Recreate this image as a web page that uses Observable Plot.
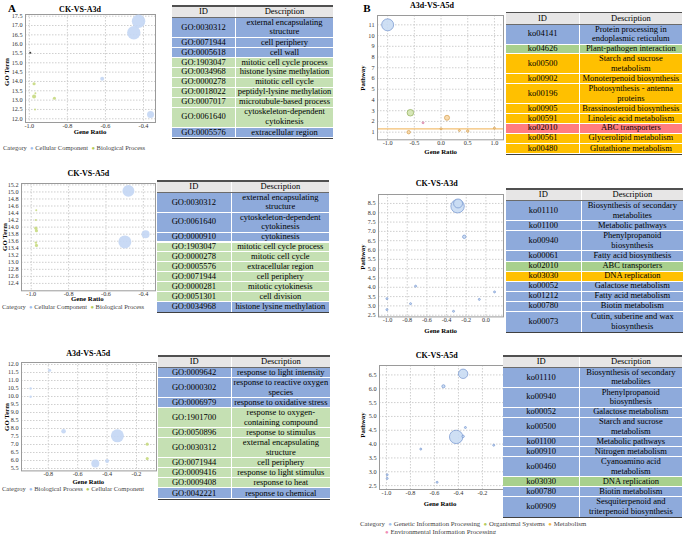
<!DOCTYPE html>
<html><head><meta charset="utf-8">
<script src="https://cdn.jsdelivr.net/npm/d3@7"></script>
<script src="https://cdn.jsdelivr.net/npm/@observablehq/plot@0.6"></script>
<style>
html,body{margin:0;padding:0;background:#fff;}
#fig{position:relative;width:685px;height:534px;overflow:hidden;font-family:'Liberation Serif','Times New Roman',serif;color:#000;}
.t{position:absolute;white-space:nowrap;line-height:1;}
.cell{position:absolute;display:flex;align-items:center;justify-content:center;text-align:center;white-space:pre-line;font-size:8.5px;line-height:9.6px;box-sizing:border-box;}
</style></head>
<body><div id="fig"></div>
<script>
// ---------------- DATA ----------------
// Panel A, chart 1 (CK-VS-A3d)
const a1Ratio = [-0.426, -0.451, -0.617, -0.363, -0.995, -0.975, -0.968, -0.975, -0.868, -0.970];
const a1Term  = [17.23, 16.61, 14.14, 12.23, 15.54, 13.88, 13.37, 13.19, 13.10, 12.50];
const a1Count = [92, 92, 8, 25, 2, 5, 2, 8, 5, 2];
const a1Cat   = ["Cellular Component","Cellular Component","Cellular Component","Cellular Component","Other",
                 "Biological Process","Biological Process","Biological Process","Biological Process","Biological Process"];
// Panel A, chart 2 (CK-VS-A5d)
const a2Ratio = [-0.480, -0.388, -0.499, -0.973, -0.975, -0.975, -0.972, -0.975, -0.972];
const a2Term  = [15.03, 13.80, 13.58, 14.48, 14.20, 13.97, 13.90, 13.56, 13.48];
const a2Count = [73, 33, 86, 2, 2, 5, 5, 3, 5];
const a2Cat   = ["Cellular Component","Cellular Component","Cellular Component",
                 "Biological Process","Biological Process","Biological Process","Biological Process","Biological Process","Biological Process"];
// Panel A, chart 3 (A3d-VS-A5d)
const a3Ratio = [-0.791, -0.920, -0.920, -0.696, -0.330, -0.480, -0.400, -0.127, -0.127];
const a3Term  = [11.64, 10.50, 9.98, 7.83, 7.54, 5.81, 5.97, 7.02, 6.12];
const a3Count = [5, 3, 3, 11, 86, 33, 8, 5, 5];
const a3Cat   = ["Biological Process","Biological Process","Biological Process","Biological Process","Biological Process",
                 "Biological Process","Biological Process","Cellular Component","Cellular Component"];
// Panel B, chart 1 (A3d-VS-A5d)
const b1Ratio = [-1.000, -0.574, 0.112, -0.337, -0.606, 0.000, 0.344, 0.500, 1.000];
const b1Path  = [11.00, 2.81, 2.34, 1.88, 1.00, 1.32, 1.16, 1.10, 1.38];
const b1Count = [73, 22, 13, 2, 6, 2, 2, 3, 2];
const b1Cat   = ["Genetic Information Processing","Organismal Systems","Metabolism","Environmental Information Processing",
                 "Metabolism","Metabolism","Metabolism","Metabolism","Metabolism"];
const b1Threshold = [1.3];
// Panel B, chart 2 (CK-VS-A3d)
const b2Ratio = [-0.288, -0.283, -0.220, -0.715, -1.006, -1.006, -0.766, -0.329, -0.067, 0.088];
const b2Path  = [8.35, 8.50, 6.71, 4.06, 3.39, 2.80, 3.12, 2.71, 3.35, 3.75];
const b2Count = [92, 41, 6, 2, 2, 2, 2, 2, 2, 2];
const b2Cat   = Array(10).fill("Genetic Information Processing");
// Panel B, chart 3 (CK-VS-A5d)
const b3Ratio = [-0.361, -0.525, -0.419, -0.361, -0.342, -0.714, -0.106, -0.994, -0.994, -0.578];
const b3Path  = [6.54, 6.09, 4.26, 4.28, 4.60, 3.82, 3.96, 2.89, 2.76, 2.62];
const b3Count = [45, 5, 92, 3, 2, 2, 2, 2, 2, 2];
const b3Cat   = Array(10).fill("Genetic Information Processing");

// tick labels
const a1XTicks = [-1.0, -0.8, -0.6, -0.4];
const a1YTicks = [12.0, 12.5, 13.0, 13.5, 14.0, 14.5, 15.0, 15.5, 16.0, 16.5, 17.0, 17.5];
const a2XTicks = [-1.0, -0.8, -0.6, -0.4];
const a2YTicks = [12.4, 12.6, 12.8, 13.0, 13.2, 13.4, 13.6, 13.8, 14.0, 14.2, 14.4, 14.6, 14.8, 15.0, 15.2];
const a3XTicks = [-0.8, -0.6, -0.4, -0.2];
const a3YTicks = [5.5, 6.0, 6.5, 7.0, 7.5, 8.0, 8.5, 9.0, 9.5, 10.0, 10.5, 11.0, 11.5, 12.0];
const b1XTicks = [-1.0, -0.5, 0.0, 0.5, 1.0];
const b1YTicks = [1, 2, 3, 4, 5, 6, 7, 8, 9, 10, 11];
const b2XTicks = [-1.0, -0.8, -0.6, -0.4, -0.2, 0.0];
const b2YTicks = [2.5, 3.0, 3.5, 4.0, 4.5, 5.0, 5.5, 6.0, 6.5, 7.0, 7.5, 8.0, 8.5];
const b3XTicks = [-1.0, -0.8, -0.6, -0.4, -0.2];
const b3YTicks = [2.5, 3.0, 3.5, 4.0, 4.5, 5.0, 5.5, 6.0, 6.5];

// tables
const t1Ids = ["GO:0030312","GO:0071944","GO:0005618","GO:1903047","GO:0034968","GO:0000278","GO:0018022","GO:0007017","GO:0061640","GO:0005576"];
const t1Desc = ["external encapsulating\nstructure","cell periphery","cell wall","mitotic cell cycle process","histone lysine methylation","mitotic cell cycle","peptidyl-lysine methylation","microtubule-based process","cytoskeleton-dependent\ncytokinesis","extracellular region"];
const t1Grp = ["b","b","b","g","g","g","g","g","g","b"];
const t2Ids = ["GO:0030312","GO:0061640","GO:0000910","GO:1903047","GO:0000278","GO:0005576","GO:0071944","GO:0000281","GO:0051301","GO:0034968"];
const t2Desc = ["external encapsulating\nstructure","cytoskeleton-dependent\ncytokinesis","cytokinesis","mitotic cell cycle process","mitotic cell cycle","extracellular region","cell periphery","mitotic cytokinesis","cell division","histone lysine methylation"];
const t2Grp = ["b","b","b","g","g","g","g","g","g","b"];
const t3Ids = ["GO:0009642","GO:0000302","GO:0006979","GO:1901700","GO:0050896","GO:0030312","GO:0071944","GO:0009416","GO:0009408","GO:0042221"];
const t3Desc = ["response to light intensity","response to reactive oxygen\nspecies","response to oxidative stress","response to oxygen-\ncontaining compound","response to stimulus","external encapsulating\nstructure","cell periphery","response to light stimulus","response to heat","response to chemical"];
const t3Grp = ["b","b","b","g","g","g","g","g","g","b"];
const t4Ids = ["ko04141","ko04626","ko00500","ko00902","ko00196","ko00905","ko00591","ko02010","ko00561","ko00480"];
const t4Desc = ["Protein processing in\nendoplasmic reticulum","Plant-pathogen interaction","Starch and sucrose\nmetabolism","Monoterpenoid biosynthesis","Photosynthesis - antenna\nproteins","Brassinosteroid biosynthesis","Linoleic acid metabolism","ABC transporters","Glycerolipid metabolism","Glutathione metabolism"];
const t4Grp = ["b","G","o","o","o","o","o","p","o","o"];
const t5Ids = ["ko01110","ko01100","ko00940","ko00061","ko02010","ko03030","ko00052","ko01212","ko00780","ko00073"];
const t5Desc = ["Biosynthesis of secondary\nmetabolites","Metabolic pathways","Phenylpropanoid\nbiosynthesis","Fatty acid biosynthesis","ABC transporters","DNA replication","Galactose metabolism","Fatty acid metabolism","Biotin metabolism","Cutin, suberine and wax\nbiosynthesis"];
const t5Grp = ["b","b","b","b","G","o","b","b","b","b"];
const t6Ids = ["ko01110","ko00940","ko00052","ko00500","ko01100","ko00910","ko00460","ko03030","ko00780","ko00909"];
const t6Desc = ["Biosynthesis of secondary\nmetabolites","Phenylpropanoid\nbiosynthesis","Galactose metabolism","Starch and sucrose\nmetabolism","Metabolic pathways","Nitrogen metabolism","Cyanoamino acid\nmetabolism","DNA replication","Biotin metabolism","Sesquiterpenoid and\ntriterpenoid biosynthesis"];
const t6Grp = ["b","b","b","b","b","b","b","G","b","b"];

// ---------------- STYLES ----------------
const FONT = "'Liberation Serif','Times New Roman',serif";
const rowColor = {b:"#8eaadb", g:"#c5e0b3", G:"#a8d08d", o:"#ffc000", p:"#ff7c80"};
const BLUE = "#c3d6f4", GREEN = "#c7d97f", BLUE_L = "#9fc0ee", GREEN_L = "#b5cc5a";
// first-listed category is blue, second is green (per chart, as in the figure)
const a1Fill = {"Cellular Component": BLUE, "Biological Process": GREEN, "Other": "#222"};
const a3Fill = {"Biological Process": BLUE, "Cellular Component": GREEN};
const bFill = {"Genetic Information Processing":"#c9dbf3","Organismal Systems":"#d3e4b0","Metabolism":"#f8d8a6","Environmental Information Processing":"#f5c3d5"};
const bStroke = {"Genetic Information Processing":"#7393cf","Organismal Systems":"#8fae58","Metabolism":"#d29c4e","Environmental Information Processing":"#cf6f98"};

const fig = document.getElementById("fig");
function text(str, x, y, o = {}) {
  const d = document.createElement("div");
  d.className = "t";
  d.textContent = str;
  d.style.left = x + "px"; d.style.top = y + "px";
  d.style.fontSize = (o.size || 7) + "px";
  if (o.bold) d.style.fontWeight = "bold";
  if (o.color) d.style.color = o.color;
  const anchor = o.anchor || "middle";
  const tx = anchor === "start" ? "0" : anchor === "end" ? "-100%" : "-50%";
  d.style.transform = `translate(${tx},-50%)` + (o.rotate ? ` rotate(${o.rotate}deg)` : "");
  fig.appendChild(d);
  return d;
}
function legend(items, x, y, size) {
  const d = document.createElement("div");
  d.className = "t";
  d.style.left = x + "px"; d.style.top = y + "px";
  d.style.fontSize = size + "px"; d.style.color = "#444";
  d.style.transform = "translate(0,-50%)";
  d.innerHTML = items.map(([label, col]) => col ? `<span style="color:${col};font-size:${size*0.9}px">&#9679;</span> ${label}` : label).join("&nbsp;&nbsp;");
  fig.appendChild(d);
}

function bubble(cfg) {
  const ml = 24, mr = 1, mt = 1, mb = 12;
  const [L, T, R, B] = cfg.frame;
  const fw = R - L, fh = B - T;
  const data = cfg.x.map((x, i) => ({x, y: cfg.y[i], n: cfg.n[i], c: cfg.c[i]}));
  const marks = [
    Plot.ruleX(cfg.xt, {stroke: "#cfcfcf", strokeDasharray: "1.5,1.5"}),
    Plot.ruleY(cfg.yt, {stroke: "#cfcfcf", strokeDasharray: "1.5,1.5"}),
  ];
  if (cfg.threshold) marks.push(Plot.ruleY(cfg.threshold, {stroke: "#f3bf72", strokeWidth: 1.2}));
  marks.push(Plot.frame({stroke: "#9a9a9a"}));
  marks.push(Plot.dot(data, {
    x: "x", y: "y", r: "n",
    fill: d => cfg.fill[d.c],
    stroke: cfg.stroke ? (d => cfg.stroke[d.c]) : "none",
    strokeWidth: 0.7,
    fillOpacity: 0.9
  }));
  const svg = Plot.plot({
    width: fw + ml + mr, height: fh + mt + mb,
    marginLeft: ml, marginRight: mr, marginTop: mt, marginBottom: mb,
    style: {fontFamily: FONT, fontSize: "6.2px", color: "#333", background: "transparent", overflow: "visible"},
    x: {domain: cfg.xd, ticks: cfg.xt, tickFormat: cfg.xf, tickSize: 0, tickPadding: 1.2, label: null},
    y: {domain: cfg.yd, ticks: cfg.yt, tickFormat: cfg.yf, tickSize: 0, tickPadding: 3, label: null},
    r: {domain: [0, 100], range: [0, 7]},
    color: {type: "identity"},
    marks
  });
  svg.style.position = "absolute";
  svg.style.left = (L - ml) + "px";
  svg.style.top = (T - mt) + "px";
  fig.appendChild(svg);
}

function table(cfg) {
  const [L, T, R, Bt] = cfg.box;
  const S = cfg.split;
  const lines = cfg.desc.map(d => d.split("\n").length);
  const total = lines.reduce((a, b) => a + b, 0);
  const hh = 10.5, topB = 1.5, botB = 1.5;
  const lh = (Bt - T - hh - topB - botB - 1) / total;
  const add = (x, y, w, h, bg, txt, extra = "") => {
    const c = document.createElement("div");
    c.className = "cell";
    c.style.cssText += `left:${x}px;top:${y}px;width:${w}px;height:${h}px;background:${bg};${extra}`;
    if (txt != null) c.textContent = txt;
    fig.appendChild(c);
  };
  add(L, T, R - L, topB, "#505050");
  add(L, T + topB, S - L, hh, "#e7e6e6", "ID", "border-right:1px solid #fff;");
  add(S, T + topB, R - S, hh, "#e7e6e6", "Description");
  add(L, T + topB + hh, R - L, 1, "#6b6b6b");
  let y = T + topB + hh + 1;
  cfg.ids.forEach((id, i) => {
    const h = lines[i] * lh;
    const bg = rowColor[cfg.grp[i]];
    const sep = i < cfg.ids.length - 1 ? "border-bottom:0.8px solid #fff;" : "";
    add(L, y, S - L, h, bg, id, "border-right:1px solid #fff;" + sep);
    add(S, y, R - S, h, bg, cfg.desc[i], sep);
    y += h;
  });
  add(L, y, R - L, botB, "#404040");
}

const f1 = d => d.toFixed(1);
const f0 = d => String(d);

// ---------------- PANEL A ----------------
text("A", 12, 8, {size: 11, bold: true});
text("CK-VS-A3d", 80, 9.5, {size: 8, bold: true});
bubble({frame: [25, 14, 155, 122], x: a1Ratio, y: a1Term, n: a1Count, c: a1Cat, fill: a1Fill,
  xd: [-1.02, -0.337], yd: [11.8, 17.59], xt: a1XTicks, yt: a1YTicks, xf: f1, yf: f1});
text("Gene Ratio", 90, 132, {size: 6.8, bold: true});
text("GO Term", 7, 72, {size: 6.8, bold: true, rotate: -90});
legend([["Category"], ["Cellular Component", BLUE_L], ["Biological Process", GREEN_L]], 3, 148, 6.5);
table({box: [172, 5, 333, 139], split: 236, ids: t1Ids, desc: t1Desc, grp: t1Grp});

text("CK-VS-A5d", 88.3, 174, {size: 8, bold: true});
bubble({frame: [21, 182.7, 155, 290], x: a2Ratio, y: a2Term, n: a2Count, c: a2Cat, fill: a1Fill,
  xd: [-1.052, -0.335], yd: [12.19, 15.24], xt: a2XTicks, yt: a2YTicks, xf: f1, yf: f1});
text("Gene Ratio", 87.3, 299, {size: 6.8, bold: true});
text("GO Term", 4.5, 236.7, {size: 6.8, bold: true, rotate: -90});
legend([["Category"], ["Cellular Component", BLUE_L], ["Biological Process", GREEN_L]], 2, 307.2, 6.5);
table({box: [157, 180, 329, 313.3], split: 231.7, ids: t2Ids, desc: t2Desc, grp: t2Grp});

text("A3d-VS-A5d", 88.3, 354.3, {size: 8, bold: true});
bubble({frame: [21, 362.3, 156, 470.7], x: a3Ratio, y: a3Term, n: a3Count, c: a3Cat, fill: a3Fill,
  xd: [-0.982, -0.064], yd: [5.35, 12.125], xt: a3XTicks, yt: a3YTicks, xf: f1, yf: f1});
text("Gene Ratio", 88.3, 481.6, {size: 6.6, bold: true});
text("GO Term", 7.3, 416.7, {size: 6.8, bold: true, rotate: -90});
legend([["Categroy"], ["Biological Process", BLUE_L], ["Cellular Component", GREEN_L]], 2, 489, 6.5);
table({box: [157.7, 355, 330, 500], split: 231.7, ids: t3Ids, desc: t3Desc, grp: t3Grp});

// ---------------- PANEL B ----------------
text("B", 367, 8, {size: 11, bold: true});
text("A3d-VS-A5d", 432, 5.5, {size: 8, bold: true});
bubble({frame: [377.3, 15, 503.3, 139.3], x: b1Ratio, y: b1Path, n: b1Count, c: b1Cat, fill: bFill, stroke: bStroke,
  threshold: b1Threshold,
  xd: [-1.19, 1.17], yd: [0.29, 11.87], xt: b1XTicks, yt: b1YTicks, xf: f1, yf: f0});
text("Gene Ratio", 440.7, 152, {size: 6.8, bold: true});
text("Pathway", 362.7, 78.3, {size: 6.8, bold: true, rotate: -90});
table({box: [506, 11.7, 681.7, 155], split: 580, ids: t4Ids, desc: t4Desc, grp: t4Grp});

text("CK-VS-A3d", 436.7, 184, {size: 8, bold: true});
bubble({frame: [378.3, 194.3, 503.3, 316.7], x: b2Ratio, y: b2Path, n: b2Count, c: b2Cat, fill: bFill, stroke: bStroke,
  xd: [-1.092, 0.179], yd: [2.41, 8.98], xt: b2XTicks, yt: b2YTicks, xf: f1, yf: f1});
text("Gene Ratio", 440.7, 330.5, {size: 6.8, bold: true});
text("Pathway", 362.7, 257.3, {size: 6.8, bold: true, rotate: -90});
table({box: [506, 188.3, 683, 333.3], split: 581.7, ids: t5Ids, desc: t5Desc, grp: t5Grp});

text("CK-VS-A5d", 436.7, 355.7, {size: 8, bold: true});
bubble({frame: [379, 365, 503.3, 489], x: b3Ratio, y: b3Path, n: b3Count, c: b3Cat, fill: bFill, stroke: bStroke,
  xd: [-1.058, -0.022], yd: [2.36, 6.84], xt: b3XTicks, yt: b3YTicks, xf: f1, yf: f1});
text("Gene Ratio", 440, 503.8, {size: 6.8, bold: true});
text("Pathway", 362.7, 425, {size: 6.8, bold: true, rotate: -90});
table({box: [503.3, 355, 681.7, 518.3], split: 580, ids: t6Ids, desc: t6Desc, grp: t6Grp});
legend([["Category"], ["Genetic Information Processing", "#9fc0ee"], ["Organismal Systems", "#b5cc5a"], ["Metabolism", "#f5b942"]], 360, 524.3, 6.8);
legend([["Environmental Information Processing", "#f08cb5"]], 385, 531.5, 6.8);
</script></body></html>
